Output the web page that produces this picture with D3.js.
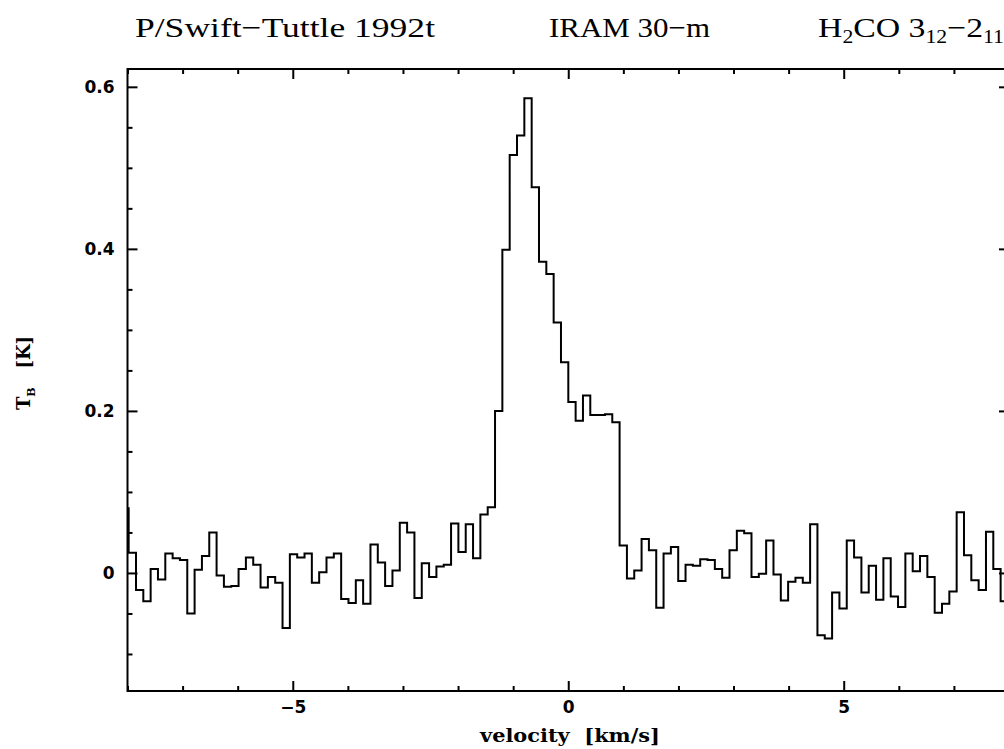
<!DOCTYPE html>
<html>
<head>
<meta charset="utf-8">
<script src="https://cdn.jsdelivr.net/npm/d3@7"></script>
<style>
  body { margin: 0; background: #fff; }
  svg { display: block; }
</style>
</head>
<body>
<div class="chart"></div>
<script>
// spectrum channels: first channel left edge and channel width (km/s)
const vFirst = -8.112;
const dv = 0.133;
// brightness temperature per channel (K)
const tb = [
  0.080, 0.025, -0.021, -0.035, 0.005, -0.008, 0.024, 0.018, 0.016, -0.050,
  0.004, 0.021, 0.050, -0.003, -0.017, -0.016, 0.005, 0.019, 0.010, -0.018,
  -0.005, -0.012, -0.068, 0.023, 0.019, 0.024, -0.012, 0.001, 0.019, 0.024,
  -0.032, -0.037, -0.009, -0.038, 0.035, 0.013, -0.016, 0.003, 0.062, 0.050,
  -0.031, 0.012, -0.005, 0.008, 0.010, 0.061, 0.026, 0.060, 0.018, 0.072,
  0.081, 0.200, 0.399, 0.516, 0.540, 0.586, 0.476, 0.384, 0.369, 0.309,
  0.260, 0.211, 0.188, 0.219, 0.195, 0.195, 0.196, 0.186, 0.034, -0.007,
  0.003, 0.042, 0.028, -0.043, 0.024, 0.032, -0.010, 0.010, 0.009, 0.017,
  0.016, 0.005, -0.006, 0.028, 0.052, 0.049, -0.005, -0.001, 0.040, -0.002,
  -0.034, -0.011, -0.006, -0.012, 0.060, -0.077, -0.081, -0.024, -0.044, 0.040,
  0.019, -0.024, 0.009, -0.033, 0.018, -0.029, -0.042, 0.024, 0.002, 0.021,
  -0.005, -0.049, -0.038, -0.023, 0.075, 0.022, -0.009, -0.021, 0.051, 0.005,
  -0.035
];

const xMajor = [-5, 0, 5];
const xMinor = [-8, -7, -6, -4, -3, -2, -1, 1, 2, 3, 4, 6, 7, 8];
const yMajor = [0, 0.2, 0.4, 0.6];
const yMinor = [-0.1, -0.05, 0.05, 0.1, 0.15, 0.25, 0.3, 0.35, 0.45, 0.5, 0.55];

const margin = ({top: 69, left: 127.5});
const width = 881.5, height = 622;

const svg = d3.select(".chart").append("svg")
    .attr("width", 1004)
    .attr("height", 749);

const g = svg.append("g")
    .attr("transform", "translate(" + margin.left + "," + margin.top + ")");

const xScale = d3.scaleLinear().domain([-8, 8]).range([0, width]);
const yScale = d3.scaleLinear().domain([-0.1457, 0.622]).range([height, 0]);

g.append("clipPath").attr("id", "clip")
  .append("rect").attr("width", width).attr("height", height);

// build step points, plus closing point at right edge of last channel
const pts = tb.map((t, i) => ({v: vFirst + i * dv, t: t}));
pts.push({v: vFirst + tb.length * dv, t: tb[tb.length - 1]});

const line = d3.line()
    .x(d => xScale(d.v))
    .y(d => yScale(d.t))
    .curve(d3.curveStepAfter);

g.append("path")
    .datum(pts)
    .attr("clip-path", "url(#clip)")
    .attr("fill", "none")
    .attr("stroke", "#000")
    .attr("stroke-width", 2)
    .attr("stroke-linejoin", "miter")
    .attr("d", line);

const tickFont = "'DejaVu Sans', sans-serif";
const fmtY = d => d === 0 ? "0" : d3.format(".1f")(d);

function styleAxis(sel) {
  sel.select(".domain").remove();
  sel.selectAll(".tick line").attr("stroke", "#000").attr("stroke-width", 2);
  sel.selectAll(".tick text")
    .attr("fill", "#000")
    .style("font-family", tickFont)
    .style("font-weight", "bold")
    .style("font-size", "17px");
}

// bottom
g.append("g").attr("transform", `translate(0,${height})`)
  .call(d3.axisBottom(xScale).tickValues(xMajor).tickSize(-10).tickPadding(10))
  .call(styleAxis);
g.append("g").attr("transform", `translate(0,${height})`)
  .call(d3.axisBottom(xScale).tickValues(xMinor).tickSize(-5).tickFormat(""))
  .call(styleAxis);
// top
g.append("g")
  .call(d3.axisTop(xScale).tickValues(xMajor).tickSize(-10).tickFormat(""))
  .call(styleAxis);
g.append("g")
  .call(d3.axisTop(xScale).tickValues(xMinor).tickSize(-5).tickFormat(""))
  .call(styleAxis);
// left
g.append("g")
  .call(d3.axisLeft(yScale).tickValues(yMajor).tickSize(-10).tickPadding(13).tickFormat(fmtY))
  .call(styleAxis);
g.append("g")
  .call(d3.axisLeft(yScale).tickValues(yMinor).tickSize(-5).tickFormat(""))
  .call(styleAxis);
// right
g.append("g").attr("transform", `translate(${width},0)`)
  .call(d3.axisRight(yScale).tickValues(yMajor).tickSize(-10).tickFormat(""))
  .call(styleAxis);
g.append("g").attr("transform", `translate(${width},0)`)
  .call(d3.axisRight(yScale).tickValues(yMinor).tickSize(-5).tickFormat(""))
  .call(styleAxis);

// frame
g.append("rect")
    .attr("width", width)
    .attr("height", height)
    .attr("fill", "none")
    .attr("stroke", "#000")
    .attr("stroke-width", 2);

// axis titles
svg.append("text")
    .attr("x", 570)
    .attr("y", 742)
    .attr("text-anchor", "middle")
    .attr("textLength", 180)
    .attr("lengthAdjust", "spacingAndGlyphs")
    .style("font-family", "'DejaVu Serif', serif")
    .style("font-weight", "bold")
    .style("font-size", "18px")
    .text("velocity\u00a0\u00a0[km/s]");

const yl = svg.append("text")
    .attr("transform", "translate(30,373) rotate(-90)")
    .attr("text-anchor", "middle")
    .style("font-family", "'DejaVu Serif', serif")
    .style("font-weight", "bold")
    .style("font-size", "18px");
yl.append("tspan").text("T");
yl.append("tspan").attr("dy", 5).style("font-size", "11px").text("B");
yl.append("tspan").attr("dy", -5).text("\u00a0\u00a0\u00a0[K]");

// header
const titleFont = "'Liberation Serif', serif";
function title(x, len) {
  return svg.append("text")
    .attr("x", x)
    .attr("y", 37)
    .attr("textLength", len)
    .attr("lengthAdjust", "spacingAndGlyphs")
    .style("font-family", titleFont)
    .style("font-size", "28px");
}
title(135, 300).text("P/Swift\u2212Tuttle 1992t");
title(549, 161).text("IRAM 30\u2212m");

const h = title(818, 186);
h.append("tspan").text("H");
h.append("tspan").attr("dy", 6).style("font-size", "18px").text("2");
h.append("tspan").attr("dy", -6).text("CO 3");
h.append("tspan").attr("dy", 6).style("font-size", "18px").text("12");
h.append("tspan").attr("dy", -6).text("\u22122");
h.append("tspan").attr("dy", 6).style("font-size", "18px").text("11");
</script>
</body>
</html>
